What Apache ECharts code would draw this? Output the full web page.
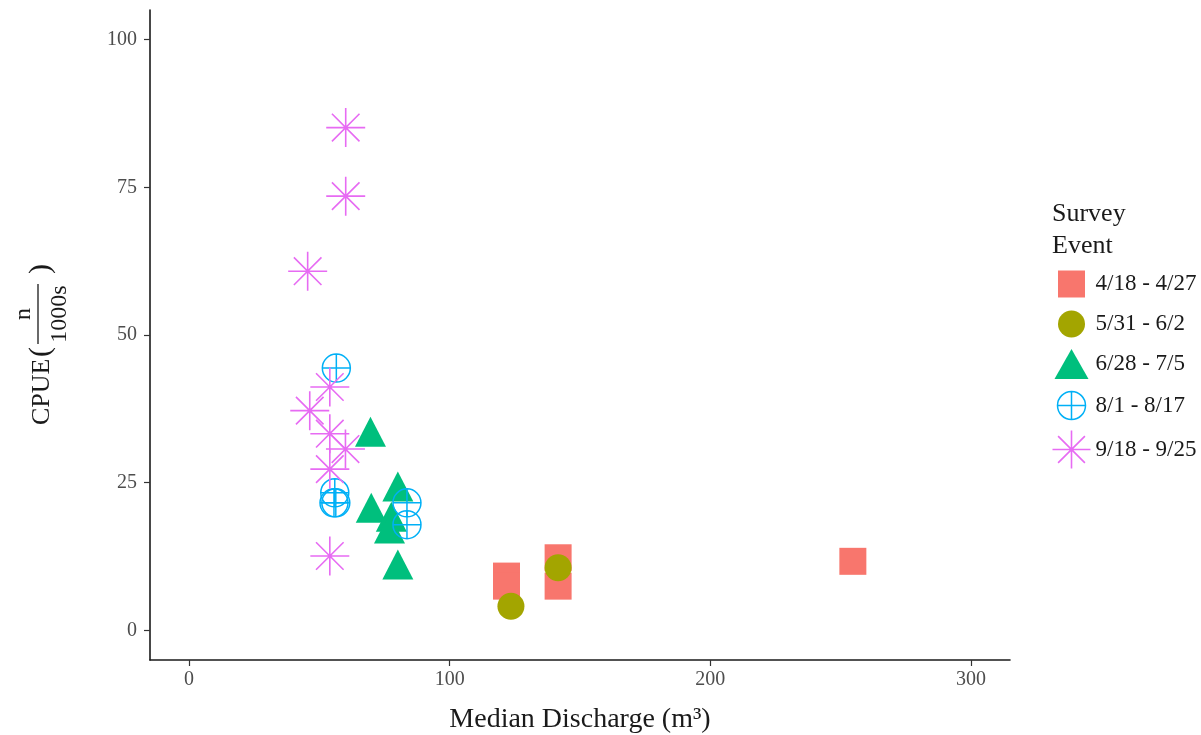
<!DOCTYPE html>
<html>
<head>
<meta charset="utf-8">
<script src="https://cdn.jsdelivr.net/npm/echarts@6/dist/echarts.min.js"></script>
<style>html,body{margin:0;padding:0;background:#fff}#c{width:1201px;height:735px}</style>
</head>
<body>
<div id="c"></div>
<script>
// ---- data (Median Discharge, CPUE) ----
const seriesNames = ['4/18 - 4/27', '5/31 - 6/2', '6/28 - 7/5', '8/1 - 8/17', '9/18 - 9/25'];
const aprilPts = [[121.8, 9.2], [121.8, 7.5], [141.6, 12.3], [141.6, 7.5], [254.7, 11.7]];
const mayPts = [[123.5, 4.1], [141.6, 10.6]];
const junePts = [[69.6, 32.8], [80.1, 23.5], [69.9, 19.9], [77.6, 18.4], [76.9, 16.4], [80.1, 10.3]];
const augPts = [[56.5, 44.4], [55.9, 23.3], [55.6, 21.6], [56.3, 21.6], [83.6, 21.6], [83.6, 17.9]];
const septPts = [[60.1, 85.1], [60.1, 73.5], [45.5, 60.8], [54.0, 41.2], [46.3, 37.2], [54.0, 33.3], [60.0, 30.7], [54.0, 27.3], [54.0, 12.6]];
const xTicks = [0, 100, 200, 300];
const yTicks = [0, 25, 50, 75, 100];
const colors = ['#F8766D', '#A3A500', '#00BF7D', '#00B0F6', '#E76BF3'];

const FONT = '"Liberation Serif", "DejaVu Serif", serif';
const circlePlus = 'path://M0,-1 A1,1 0 1 1 0,1 A1,1 0 1 1 0,-1 Z M0,-1 L0,1 M-1,0 L1,0';
const star = 'path://M0,-1 L0,1 M-1,0 L1,0 M-0.707,-0.707 L0.707,0.707 M-0.707,0.707 L0.707,-0.707';
// legend icons (padded into a fixed box with move-to points)
const lgSquare = 'path://M-19,-19 M19,19 M-13.5,-13.5 L13.5,-13.5 L13.5,13.5 L-13.5,13.5 Z';
const lgCircle = 'path://M-19,-19 M19,19 M0,-13.5 A13.5,13.5 0 1 1 0,13.5 A13.5,13.5 0 1 1 0,-13.5 Z';
const lgTri = 'path://M-19,-19 M19,19 M0,-15 L17,15 L-17,15 Z';
const lgCP = 'path://M-19,-18 M19,18 M0,-14 A14,14 0 1 1 0,14 A14,14 0 1 1 0,-14 Z M0,-14 L0,14 M-14,0 L14,0';
const lgStar = 'path://M-19,-19 M19,19 M0,-19 L0,19 M-19,0 L19,0 M-13.4,-13.4 L13.4,13.4 M-13.4,13.4 L13.4,-13.4';

const chart = echarts.init(document.getElementById('c'), null, {renderer: 'canvas'});
chart.setOption({
  animation: false,
  backgroundColor: '#fff',
  grid: {left: 150, right: 191, top: 10, bottom: 75, containLabel: false, outerBoundsMode: 'none'},
  title: {
    text: 'Survey\nEvent', left: 1052, top: 198, padding: 0,
    textStyle: {fontFamily: FONT, fontSize: 26, fontWeight: 'normal', color: '#1a1a1a', lineHeight: 32}
  },
  legend: {
    orient: 'vertical', left: 1050, top: 265, padding: 0, itemWidth: 38, itemHeight: 38, itemGap: 2,
    textStyle: {fontFamily: FONT, fontSize: 23, color: '#1a1a1a'},
    data: [
      {name: seriesNames[0], icon: lgSquare, itemStyle: {color: colors[0], borderWidth: 0}},
      {name: seriesNames[1], icon: lgCircle, itemStyle: {color: colors[1], borderWidth: 0}},
      {name: seriesNames[2], icon: lgTri, itemStyle: {color: colors[2], borderWidth: 0}},
      {name: seriesNames[3], icon: lgCP, itemStyle: {color: 'none', borderColor: colors[3], borderWidth: 1.5}},
      {name: seriesNames[4], icon: lgStar, itemStyle: {color: 'none', borderColor: colors[4], borderWidth: 1.6}}
    ]
  },
  xAxis: {
    type: 'value', min: -15, max: 315,
    name: 'Median Discharge (m³)', nameLocation: 'middle', nameGap: 46,
    nameTextStyle: {fontFamily: FONT, fontSize: 28, color: '#1a1a1a'},
    axisLine: {show: true, onZero: false, lineStyle: {color: '#1a1a1a', width: 1.6}},
    axisTick: {show: true, length: 6, customValues: xTicks, lineStyle: {color: '#333', width: 1.2}},
    axisLabel: {customValues: xTicks, margin: 10, fontFamily: FONT, fontSize: 20, color: '#4d4d4d'},
    splitLine: {show: false}
  },
  yAxis: {
    type: 'value', min: -5, max: 105,
    axisLine: {show: true, onZero: false, lineStyle: {color: '#1a1a1a', width: 1.6}},
    axisTick: {show: true, length: 6, customValues: yTicks, lineStyle: {color: '#333', width: 1.2}},
    axisLabel: {customValues: yTicks, margin: 13, fontFamily: FONT, fontSize: 20, color: '#4d4d4d'},
    splitLine: {show: false}
  },
  graphic: [{
    type: 'group', x: 42, y: 341, rotation: Math.PI / 2,
    children: [
      {type: 'text', x: -84, y: 0, style: {text: 'CPUE', fontFamily: FONT, fontSize: 26, fill: '#1a1a1a', align: 'left', verticalAlign: 'middle'}},
      {type: 'text', x: -11, y: -1, style: {text: '(', fontFamily: FONT, fontSize: 30, fill: '#1a1a1a', align: 'center', verticalAlign: 'middle'}},
      {type: 'line', shape: {x1: -3, y1: -4, x2: 57, y2: -4}, style: {stroke: '#1a1a1a', lineWidth: 1.3}},
      {type: 'text', x: 27, y: -18, style: {text: 'n', fontFamily: FONT, fontSize: 24, fill: '#1a1a1a', align: 'center', verticalAlign: 'middle'}},
      {type: 'text', x: 27, y: 18, style: {text: '1000s', fontFamily: FONT, fontSize: 24, fill: '#1a1a1a', align: 'center', verticalAlign: 'middle'}},
      {type: 'text', x: 72, y: -1, style: {text: ')', fontFamily: FONT, fontSize: 30, fill: '#1a1a1a', align: 'center', verticalAlign: 'middle'}}
    ]
  }],
  series: [
    {name: seriesNames[0], type: 'scatter', data: aprilPts, symbol: 'rect', symbolSize: 27, itemStyle: {color: colors[0], opacity: 1}},
    {name: seriesNames[1], type: 'scatter', data: mayPts, symbol: 'circle', symbolSize: 27, itemStyle: {color: colors[1], opacity: 1}},
    {name: seriesNames[2], type: 'scatter', data: junePts, symbol: 'triangle', symbolSize: [31, 30], symbolOffset: [0, -5], itemStyle: {color: colors[2], opacity: 1}},
    {name: seriesNames[3], type: 'scatter', data: augPts, symbol: circlePlus, symbolSize: 28, itemStyle: {color: 'none', borderColor: colors[3], borderWidth: 1.5, opacity: 1}},
    {name: seriesNames[4], type: 'scatter', data: septPts, symbol: star, symbolSize: 39, itemStyle: {color: 'none', borderColor: colors[4], borderWidth: 1.6, opacity: 1}}
  ]
});
</script>
</body>
</html>
